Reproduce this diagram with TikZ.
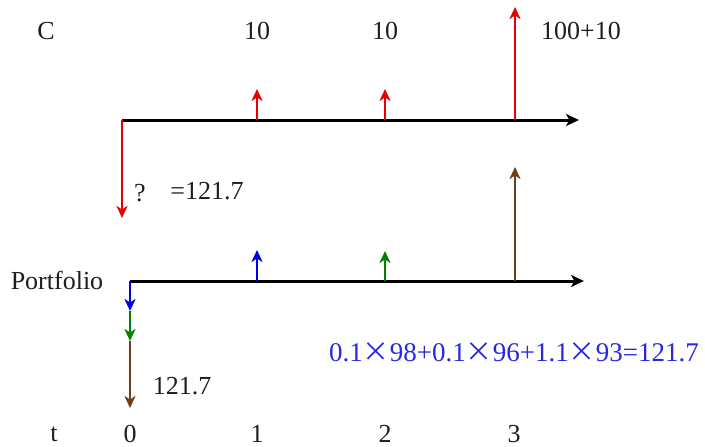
\documentclass[tikz,border=0pt]{standalone}
\usepackage{fontspec}
\setmainfont{Liberation Serif}
\newfontfamily\cjk{Noto Sans CJK SC}
\usetikzlibrary{arrows.meta}
\definecolor{cred}{RGB}{232,0,0}
\definecolor{cblue}{RGB}{0,0,230}
\definecolor{cgreen}{RGB}{0,128,0}
\definecolor{cbrown}{RGB}{110,62,22}
\definecolor{ctext}{RGB}{30,30,30}
\definecolor{ftext}{RGB}{40,40,225}
\begin{document}
\begin{tikzpicture}[x=1pt,y=-1pt,
  lbl/.style={font=\fontsize{26}{30}\selectfont, text=ctext, inner sep=0pt},
  axisline/.style={line width=3pt, draw=black, -{Stealth[length=13pt,width=12pt,inset=3.5pt]}},
  flow/.style={line width=2.6pt, -{Stealth[length=12pt,width=11pt,inset=3.5pt]}}]
\useasboundingbox (0,0) rectangle (705,447);
% top axis
\coordinate (a0) at (122,120);
\coordinate (aend) at (579,120);
\coordinate (a1) at (257,120);
\coordinate (a2) at (385,120);
\coordinate (a3) at (515,120);
\coordinate (c1) at (257,89);
\coordinate (c2) at (385,89);
\coordinate (c3) at (515,7);
\coordinate (cq) at (122,218);
% bottom axis
\coordinate (b0) at (130,281);
\coordinate (bend) at (584,281);
\coordinate (b1) at (257,281);
\coordinate (b2) at (385,281);
\coordinate (b3) at (515,281);
\coordinate (p1) at (257,250);
\coordinate (p2) at (385,251);
\coordinate (p3) at (515,167);
\coordinate (d1) at (130,311);
\coordinate (d2) at (130,341);
\coordinate (d3) at (130,408);

\draw[axisline] (a0) -- (aend);
\draw[flow, cred] (a0) -- (cq);
\draw[flow, cred] (a1) -- (c1);
\draw[flow, cred] (a2) -- (c2);
\draw[flow, cred] (a3) -- (c3);

\draw[axisline] (b0) -- (bend);
\draw[flow, cblue] (b1) -- (p1);
\draw[flow, cgreen] (b2) -- (p2);
\draw[flow, cbrown] (b3) -- (p3);
\draw[flow, cblue] (b0) -- (d1);
\draw[flow, cgreen] (d1) -- (d2);
\draw[flow, cbrown] (d2) -- (d3);

% labels
\node[lbl] (lc) at (46,31) {C};
\node[lbl] (l10a) at (257,31) {10};
\node[lbl] (l10b) at (385,31) {10};
\node[lbl] (l110) at (581,31) {100+10};
\node[lbl] (lq) at (140,193) {?};
\node[lbl] (leq) at (207,191) {=121.7};
\node[lbl] (lport) at (57,280) {Portfolio};
\node[lbl] (lval) at (182,386) {121.7};
\node[lbl, text=ftext, font=\fontsize{27}{30}\selectfont] (lform) at (514,352) {0.1{\cjk\fontsize{27}{30}\selectfont ×}98+0.1{\cjk\fontsize{27}{30}\selectfont ×}96+1.1{\cjk\fontsize{27}{30}\selectfont ×}93=121.7};
\node[lbl] (lt) at (54,434) {t};
\node[lbl] (l0) at (130,434) {0};
\node[lbl] (l1) at (257,434) {1};
\node[lbl] (l2) at (385,434) {2};
\node[lbl] (l3) at (514,434) {3};
\end{tikzpicture}
\end{document}
